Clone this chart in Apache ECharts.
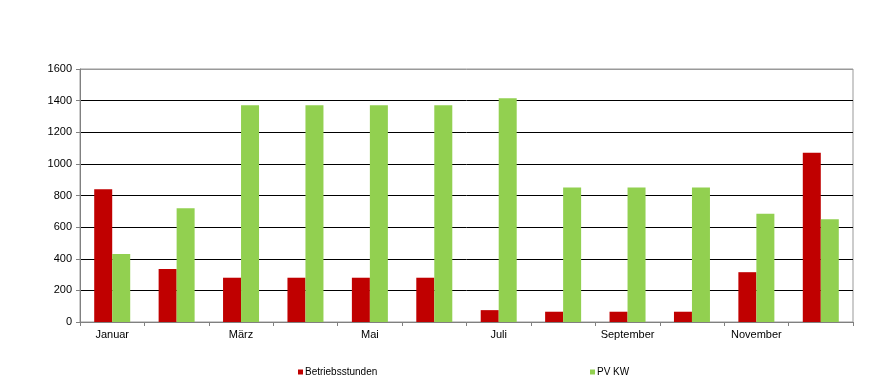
<!DOCTYPE html>
<html>
<head>
<meta charset="utf-8">
<script src="https://cdn.jsdelivr.net/npm/echarts@6/dist/echarts.min.js"></script>
<style>html,body{margin:0;padding:0;background:#fff}#c{width:874px;height:389px}</style>
</head>
<body>
<div id="c"></div>
<script>
var categories = ['Januar','Februar','März','April','Mai','Juni','Juli','August','September','Oktober','November','Dezember'];
var betriebsstunden = [840, 335, 280, 280, 280, 280, 75, 65, 65, 65, 315, 1070];
var pvKW = [430, 720, 1370, 1370, 1370, 1370, 1415, 850, 850, 850, 685, 650];
var yTicks = [0, 200, 400, 600, 800, 1000, 1200, 1400, 1600];

var chart = echarts.init(document.getElementById('c'));
var font = 'Liberation Sans, Arial, sans-serif';
chart.setOption({
  animation: false,
  backgroundColor: '#fff',
  grid: {left: 80, right: 21, top: 69, bottom: 67, show: true, borderColor: '#999', borderWidth: 1},
  legend: [
    {data: ['Betriebsstunden'], left: 293, top: 362, itemWidth: 5, itemHeight: 5, itemGap: 2,
     textStyle: {fontFamily: font, fontSize: 10, color: '#000', padding: [0,0,0,-3]}, icon: 'rect'},
    {data: ['PV KW'], left: 585, top: 362, itemWidth: 5, itemHeight: 5, itemGap: 2,
     textStyle: {fontFamily: font, fontSize: 10, color: '#000', padding: [0,0,0,-3]}, icon: 'rect'}
  ],
  xAxis: {
    type: 'category', data: categories, boundaryGap: true,
    axisLine: {lineStyle: {color: '#808080', width: 1}},
    axisTick: {show: true, alignWithLabel: false, interval: 0, length: 4, lineStyle: {color: '#808080'}},
    axisLabel: {interval: 1, color: '#000', fontFamily: font, fontSize: 11, margin: 7}
  },
  yAxis: {
    type: 'value', min: 0, max: 1600, interval: 200,
    axisLine: {show: true, lineStyle: {color: '#808080', width: 1}},
    axisTick: {show: true, length: 4, lineStyle: {color: '#808080'}},
    axisLabel: {color: '#000', fontFamily: font, fontSize: 11, margin: 8,
      formatter: function(v){ return yTicks.indexOf(v) >= 0 ? String(v) : ''; }},
    splitLine: {show: true, lineStyle: {color: ['#808080','#000','#000','#000','#000','#000','#000','#000','#999'], width: 1}}
  },
  series: [
    {name: 'Betriebsstunden', type: 'bar', data: betriebsstunden, barWidth: 18, barGap: '0%',
     itemStyle: {color: '#C00000'}},
    {name: 'PV KW', type: 'bar', data: pvKW, barWidth: 18, barGap: '0%',
     itemStyle: {color: '#92D050'}}
  ]
});
</script>
</body>
</html>
